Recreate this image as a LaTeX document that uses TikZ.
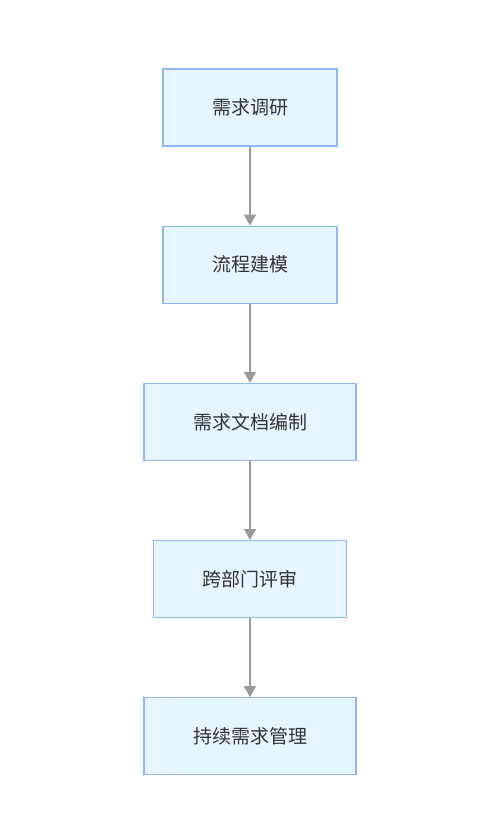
\documentclass[tikz,border=0pt]{standalone}
\usepackage{fontspec}
\usepackage{tikz}
\usetikzlibrary{positioning,arrows.meta}
\newfontfamily\cjk{Noto Sans CJK SC}
\definecolor{boxfill}{HTML}{E6F5FF}
\definecolor{boxline}{HTML}{8FB6F8}
\definecolor{flowline}{HTML}{9A9A9A}
\definecolor{labeltext}{HTML}{333333}
\tikzset{
  stage/.style={draw=boxline, fill=boxfill, line width=1.2pt, inner xsep=49pt,
    minimum height=77pt, font=\cjk\fontsize{19pt}{19pt}\selectfont, text=labeltext},
  flow/.style={draw=flowline, line width=1.3pt, -{Triangle[length=11pt,width=12pt]}}
}
\begin{document}
\begin{tikzpicture}
      \useasboundingbox (0,0) rectangle (493pt,-837pt);
      \node [stage] (s1) at (250pt,-107.5pt) {需求调研};
      \node [stage, below=79pt of s1] (s2) {流程建模};
      \node [stage, below=79pt of s2] (s3) {需求文档编制};
      \node [stage, below=79pt of s3] (s4) {跨部门评审};
      \node [stage, below=79pt of s4] (s5) {持续需求管理};
      \draw [flow] (s1) -- (s2);
      \draw [flow] (s2) -- (s3);
      \draw [flow] (s3) -- (s4);
      \draw [flow] (s4) -- (s5);
    \end{tikzpicture}
\end{document}
